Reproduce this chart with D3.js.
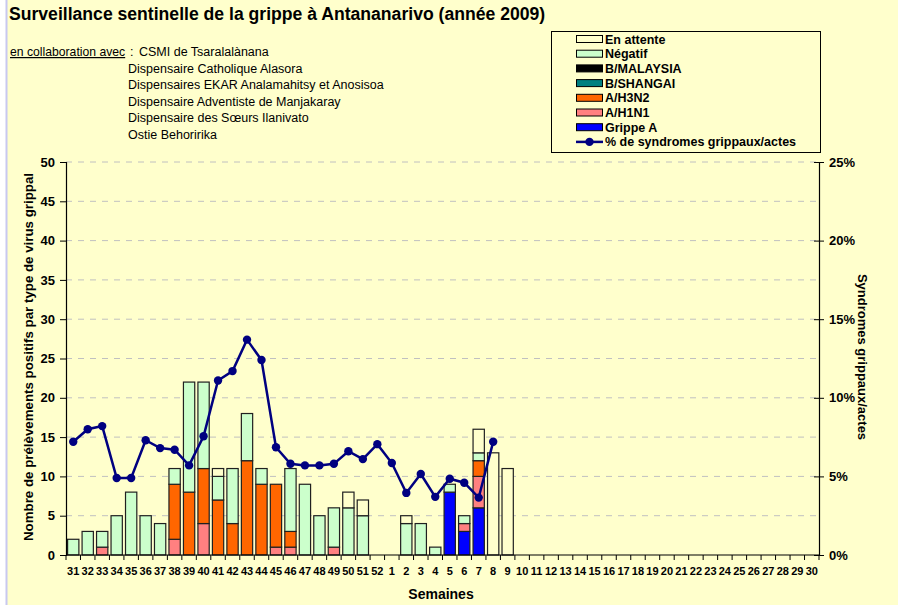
<!DOCTYPE html>
<html>
<head>
<meta charset="utf-8">
<script src="https://cdn.jsdelivr.net/npm/d3@7"></script>
<style>
  body { margin: 0; background: #fff; }
  svg { display: block; font-family: "Liberation Sans", Arial, sans-serif; }
</style>
</head>
<body>
<svg id="chart" width="898" height="605"></svg>
<script>
// semaines 31..52 (2009) puis 1..30 (2010)
var semaines = ["31","32","33","34","35","36","37","38","39","40","41","42","43","44","45","46","47","48","49","50","51","52",
  "1","2","3","4","5","6","7","8","9","10","11","12","13","14","15","16","17","18","19","20","21","22","23","24","25","26","27","28","29","30"];

// valeurs par type (dans l'ordre d'empilement, du bas vers le haut)
var grippeA   = [0,0,0,0,0,0,0,0,0,0,0,0,0,0,0,0,0,0,0,0,0,0, 0,0,0,0,8,3,6,0,0];
var h1n1      = [0,0,1,0,0,0,0,2,0,4,0,0,0,0,1,1,0,0,1,0,0,0, 0,0,0,0,0,1,4,0,0];
var h3n2      = [0,0,0,0,0,0,0,7,8,7,7,4,12,9,8,2,0,0,0,0,0,0, 0,0,0,0,0,0,2,0,0];
var bShangai  = [0,0,0,0,0,0,0,0,0,0,0,0,0,0,0,0,0,0,0,0,0,0, 0,0,0,0,0,0,0,0,0];
var bMalaysia = [0,0,0,0,0,0,0,0,0,0,0,0,0,0,0,0,0,0,0,0,0,0, 0,0,0,0,0,0,0,0,0];
var negatif   = [2,3,2,5,8,5,4,2,14,11,3,7,6,2,0,8,9,5,5,6,5,0, 0,4,4,1,1,1,1,0,0];
var enAttente = [0,0,0,0,0,0,0,0,0,0,1,0,0,0,0,0,0,0,0,2,2,0, 0,1,0,0,0,0,3,13,11];

// % de syndromes grippaux / actes (semaines 31 .. 8)
var pctSyndromes = [7.2,8.0,8.2,4.9,4.9,7.3,6.8,6.7,5.7,7.55,11.1,11.7,13.7,12.4,6.85,5.8,
  5.7,5.7,5.8,6.6,6.1,7.05, 5.85,3.95,5.15,3.7,4.85,4.6,3.65,7.2];

var seriesNoms = ["Grippe A","A/H1N1","A/H3N2","B/SHANGAI","B/MALAYSIA","Négatif","En attente"];
var seriesValeurs = [grippeA, h1n1, h3n2, bShangai, bMalaysia, negatif, enAttente];
var couleurs = ["#0000ff","#ff8080","#ff6600","#008080","#000000","#ccffcc","#ffffcc"];

var yTicks = [0,5,10,15,20,25,30,35,40,45,50];
var y2Ticks = [0,5,10,15,20,25];

var collaborateurs = ["CSMI de Tsaralalànana","Dispensaire Catholique Alasora",
  "Dispensaires EKAR Analamahitsy et Anosisoa","Dispensaire Adventiste de Manjakaray",
  "Dispensaire des Sœurs Ilanivato","Ostie Behoririka"];

var svg = d3.select("#chart");

// fond
svg.append("rect").attr("x", 7).attr("y", 0).attr("width", 891).attr("height", 605).attr("fill", "#ffffcc");
svg.append("line").attr("x1", 6.5).attr("x2", 6.5).attr("y1", 0).attr("y2", 605)
  .attr("stroke", "#c8c8f0").attr("stroke-width", 2);

// titre
svg.append("text").attr("x", 9).attr("y", 20)
  .attr("font-size", 17.6).attr("font-weight", "bold").attr("fill", "#000")
  .text("Surveillance sentinelle de la grippe à Antananarivo (année 2009)");

var collab = svg.append("g").attr("font-size", 12.5).attr("fill", "#000");
collab.append("text").attr("x", 10).attr("y", 56)
  .attr("text-decoration", "underline").attr("font-size", 12.2).text("en collaboration avec");
collab.append("text").attr("x", 130).attr("y", 56).text(":");
collab.selectAll("text.org").data(collaborateurs).enter().append("text")
  .attr("class", "org")
  .attr("x", function(d, i) { return i == 0 ? 139 : 128; })
  .attr("y", function(d, i) { return 56 + i * 16.6; })
  .text(function(d) { return d; });

// zone du graphique
var pLeft = 66, pRight = 819, pTop = 162, pBottom = 555;

var x = d3.scaleBand().domain(semaines).range([pLeft, pRight]).paddingInner(0.22).paddingOuter(0.11);
var y = d3.scaleLinear().domain([0, 50]).range([pBottom, pTop]);
var y2 = d3.scaleLinear().domain([0, 25]).range([pBottom, pTop]);

// grille
svg.append("g").selectAll("line").data(yTicks.slice(1)).enter().append("line")
  .attr("x1", pLeft).attr("x2", pRight)
  .attr("y1", function(d) { return y(d); }).attr("y2", function(d) { return y(d); })
  .attr("stroke", "#c0c0c0").attr("stroke-dasharray", "6,6").attr("stroke-width", 1);

// barres empilées
var table = semaines.map(function(s, i) {
  var row = { semaine: s };
  seriesNoms.forEach(function(n, k) { row[n] = seriesValeurs[k][i] || 0; });
  return row;
});
var stack = d3.stack().keys(seriesNoms)(table);

stack.forEach(function(serie, k) {
  svg.append("g").selectAll("rect")
    .data(serie.filter(function(d) { return d[1] - d[0] > 0; }))
    .enter().append("rect")
    .attr("x", function(d) { return x(d.data.semaine); })
    .attr("width", x.bandwidth())
    .attr("y", function(d) { return y(d[1]); })
    .attr("height", function(d) { return y(d[0]) - y(d[1]); })
    .attr("fill", couleurs[k])
    .attr("stroke", "#202020").attr("stroke-width", 1.2);
});

// courbe % syndromes
var pts = pctSyndromes.map(function(v, i) { return { s: semaines[i], v: v }; });
var ligne = d3.line()
  .x(function(d) { return x(d.s) + x.bandwidth() / 2; })
  .y(function(d) { return y2(d.v); });
svg.append("path").datum(pts).attr("d", ligne)
  .attr("fill", "none").attr("stroke", "#000080").attr("stroke-width", 2.5);
svg.append("g").selectAll("circle").data(pts).enter().append("circle")
  .attr("cx", function(d) { return x(d.s) + x.bandwidth() / 2; })
  .attr("cy", function(d) { return y2(d.v); })
  .attr("r", 4.2).attr("fill", "#000080");

// axes
var axeY = svg.append("g").attr("transform", "translate(" + pLeft + ",0)")
  .call(d3.axisLeft(y).tickValues(yTicks).tickSize(6).tickPadding(5));
var axeY2 = svg.append("g").attr("transform", "translate(" + pRight + ",0)")
  .call(d3.axisRight(y2).tickValues(y2Ticks).tickSize(5).tickPadding(5)
    .tickFormat(function(d) { return d + "%"; }));
axeY2.selectAll(".tick line").attr("x1", -5);

var axeX = svg.append("g").attr("transform", "translate(0," + pBottom + ")")
  .call(d3.axisBottom(x).tickSize(0).tickPadding(12));
// petites graduations entre les semaines
var bornes = semaines.map(function(s) { return x(s) - x.step() * x.paddingInner() / 2; });
bornes.push(pRight);
axeX.append("g").selectAll("line").data(bornes).enter().append("line")
  .attr("x1", function(d) { return d; }).attr("x2", function(d) { return d; })
  .attr("y1", 0).attr("y2", 5).attr("stroke", "#000");

[axeY, axeY2, axeX].forEach(function(a) {
  a.select(".domain").attr("stroke", "#000").attr("stroke-width", 1.2);
  a.selectAll(".tick line").attr("stroke", "#000");
  a.selectAll("text").attr("font-family", "'Liberation Sans', Arial, sans-serif")
    .attr("font-weight", "bold").attr("fill", "#000");
});
axeY.selectAll("text").attr("font-size", 13);
axeY2.selectAll("text").attr("font-size", 13);
axeX.selectAll("text").attr("font-size", 11);
axeX.select(".domain").attr("d", "M" + pLeft + ",0H" + pRight);

// titres des axes
svg.append("text").attr("x", 441).attr("y", 599).attr("text-anchor", "middle")
  .attr("font-size", 14).attr("font-weight", "bold").text("Semaines");
svg.append("text").attr("transform", "translate(33,357) rotate(-90)").attr("text-anchor", "middle")
  .attr("font-size", 13.3).attr("font-weight", "bold").text("Nombre de prélèvements positifs par type de virus grippal");
svg.append("text").attr("transform", "translate(858,357) rotate(90)").attr("text-anchor", "middle")
  .attr("font-size", 13).attr("font-weight", "bold").text("Syndromes grippaux/actes");

// légende
var leg = svg.append("g");
leg.append("rect").attr("x", 551.5).attr("y", 31.5).attr("width", 269).attr("height", 121)
  .attr("fill", "#ffffcc").attr("stroke", "#000").attr("stroke-width", 1);
var legOrdre = [6,5,4,3,2,1,0];
var legY = function(i) { return 39 + i * 14.7; };
leg.selectAll("rect.sw").data(legOrdre).enter().append("rect")
  .attr("class", "sw")
  .attr("x", 576.5).attr("y", function(d, i) { return legY(i) - 3.5; })
  .attr("width", 26).attr("height", 7)
  .attr("fill", function(d) { return couleurs[d]; })
  .attr("stroke", "#000").attr("stroke-width", 1);
leg.selectAll("text.lt").data(legOrdre).enter().append("text")
  .attr("class", "lt")
  .attr("x", 605).attr("y", function(d, i) { return legY(i) + 4.5; })
  .attr("font-size", 12.5).attr("font-weight", "bold")
  .text(function(d) { return seriesNoms[d]; });
var yl = legY(7);
leg.append("line").attr("x1", 576).attr("x2", 603).attr("y1", yl).attr("y2", yl)
  .attr("stroke", "#000080").attr("stroke-width", 2.5);
leg.append("circle").attr("cx", 589.5).attr("cy", yl).attr("r", 4.2).attr("fill", "#000080");
leg.append("text").attr("x", 605).attr("y", yl + 4.5)
  .attr("font-size", 12.5).attr("font-weight", "bold").text("% de syndromes grippaux/actes");
</script>
</body>
</html>
